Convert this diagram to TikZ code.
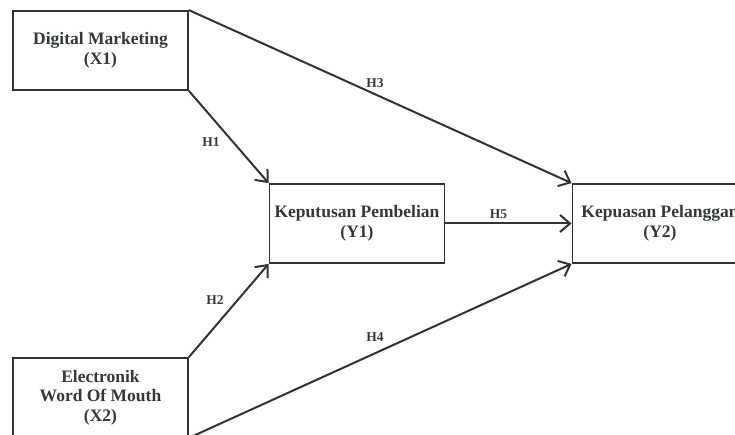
\documentclass[tikz,border=0pt]{standalone}
\usepackage{fontspec}
\setmainfont{Liberation Serif}
\usetikzlibrary{arrows.meta}
\definecolor{lineclr}{HTML}{2F3433}
\definecolor{textclr}{HTML}{333838}

\begin{document}
\begin{tikzpicture}[x=1pt,y=-1pt,
  var/.style={draw=lineclr,line width=1.8pt,minimum width=175pt,minimum height=79pt,
    align=center,inner sep=0pt,text=textclr,font=\fontsize{17.5}{19.5}\selectfont\bfseries},
  link/.style={draw=lineclr,line width=2pt,-{Straight Barb[length=10pt,width=17pt,line width=2pt]}},
  hyp/.style={inner sep=1pt,text=textclr,font=\fontsize{13.5}{15}\selectfont\bfseries}]
\useasboundingbox (0,0) rectangle (735,435);
\node[var] (x1) at (100.5,50.5) {Digital Marketing\\(X1)};
\node[var] (x2) at (100.5,397.5) {Electronik\\Word Of Mouth\\(X2)};
\node[var] (y1) at (357,223.5) {Keputusan Pembelian\\(Y1)};
\node[var] (y2) at (660,223.5) {Kepuasan Pelanggan\\(Y2)};
\draw[link] (x1.south east) -- node[hyp,pos=0.56,left=12pt] {H1} (y1.north west);
\draw[link] (x2.north east) -- node[hyp,pos=0.61,left=12pt] {H2} (y1.south west);
\draw[link] (x1.north east) -- node[hyp,pos=0.486,above=5pt] {H3} (y2.north west);
\draw[link] (x2.south east) -- node[hyp,pos=0.486,above=10pt] {H4} (y2.south west);
\draw[link] (y1.east) -- node[hyp,pos=0.42,above=3pt] {H5} (y2.west);
\end{tikzpicture}
\end{document}
